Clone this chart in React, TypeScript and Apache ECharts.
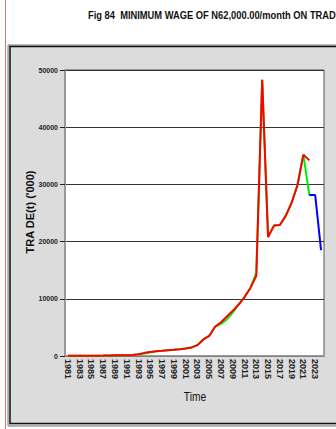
import React, { useEffect, useRef } from "react";
import * as echarts from "echarts";

const years = [
  "1981", "1982", "1983", "1984", "1985", "1986", "1987", "1988", "1989", "1990",
  "1991", "1992", "1993", "1994", "1995", "1996", "1997", "1998", "1999", "2000",
  "2001", "2002", "2003", "2004", "2005", "2006", "2007", "2008", "2009", "2010",
  "2011", "2012", "2013", "2014", "2015", "2016", "2017", "2018", "2019", "2020",
  "2021", "2022", "2023", "2024",
];

const actualTrade = [
  40, 45, 50, 55, 60, 65, 75, 90, 110, 130,
  150, 170, 300, 550, 700, 820, 900, 1000, 1080, 1180,
  1300, 1500, 1900, 2900, 3500, 5100, 5900, 6900, 7900, 9000,
  10300, 11900, 14000, 48300, 20800, 22800, 22900, 24500, 26800, 29900,
  35200, 34200, null, null,
];

const fittedTrade = [
  40, 45, 50, 55, 60, 65, 75, 90, 110, 130,
  150, 170, 300, 450, 650, 820, 900, 1000, 1080, 1180,
  1300, 1500, 1900, 2900, 3500, 5100, 5600, 6400, 7600, 9000,
  10300, 11900, 14600, 48300, 20800, 22800, 22900, 24500, 26800, 29900,
  35200, 28150, null, null,
];

const forecastTrade = [
  null, null, null, null, null, null, null, null, null, null,
  null, null, null, null, null, null, null, null, null, null,
  null, null, null, null, null, null, null, null, null, null,
  null, null, null, null, null, null, null, null, null, null,
  null, 28150, 28150, 18500,
];

const titleText = "Fig 84  MINIMUM WAGE OF N62,000.00/month ON TRADE";
const yName = "TRA DE(t) ('000)";
const xName = "Time";

const sans = "'Liberation Sans', Arial, sans-serif";

export default function App() {
  const ref = useRef<HTMLDivElement>(null);
  useEffect(() => {
    if (!ref.current) return;
    const chart = echarts.init(ref.current, null, { renderer: "svg" });
    chart.setOption({
      animation: false,
      backgroundColor: "#ffffff",
      graphic: [
        { type: "line", shape: { x1: 5.5, y1: 0, x2: 5.5, y2: 429 }, style: { stroke: "#e87070", lineWidth: 1 }, z: -5 },
        { type: "rect", shape: { x: 8, y: 45, width: 340, height: 381 }, style: { fill: "#dcdcdc", stroke: "#7a7a7a", lineWidth: 1 }, z: -10 },
        { type: "rect", shape: { x: 10, y: 46.5, width: 340, height: 377 }, style: { fill: "none", stroke: "#111", lineWidth: 1.5 }, z: -9 },
        {
          type: "text", x: 88, y: 15, scaleX: 0.85,
          style: { text: titleText, font: `bold 11px ${sans}`, fill: "#111", textVerticalAlign: "middle", textAlign: "left" },
        },
        {
          type: "text", x: 30, y: 212, rotation: Math.PI / 2,
          style: { text: yName, font: `bold 11px ${sans}`, fill: "#111", textAlign: "center", textVerticalAlign: "middle" },
        },
        {
          type: "text", x: 195, y: 397, scaleX: 0.85,
          style: { text: xName, font: `12px ${sans}`, fill: "#111", textAlign: "center", textVerticalAlign: "middle" },
        },
      ],
      grid: {
        left: 65, top: 70, right: 12, bottom: 73,
        show: true, backgroundColor: "#ffffff", borderColor: "#555", borderWidth: 1,
      },
      xAxis: {
        type: "category",
        data: years,
        boundaryGap: true,
        axisLine: { lineStyle: { color: "#999", width: 1.5 } },
        axisTick: { interval: 0, length: 16, lineStyle: { color: "#aaa", width: 1 } },
        axisLabel: {
          interval: 1, rotate: -90, margin: 3,
          fontFamily: sans, fontWeight: "bold", fontSize: 9, color: "#222",
        },
        splitLine: { show: false },
      },
      yAxis: {
        type: "value",
        min: 0, max: 50000, interval: 10000,
        axisLine: { show: true, lineStyle: { color: "#999", width: 2 } },
        axisTick: { show: true, length: 5, lineStyle: { color: "#222" } },
        axisLabel: {
          margin: 7, fontFamily: sans, fontWeight: "bold", fontSize: 7, color: "#222",
          formatter: (v: number) => String(v),
        },
        splitLine: { show: true, lineStyle: { color: "#333", width: 1 } },
      },
      series: [
        {
          type: "line", data: fittedTrade, symbol: "none", z: 2,
          lineStyle: { color: "#00ee00", width: 2 },
        },
        {
          type: "line", data: actualTrade, symbol: "none", z: 3,
          lineStyle: { color: "#ff0000", width: 2 },
        },
        {
          type: "line", data: forecastTrade, symbol: "none", z: 4,
          lineStyle: { color: "#0000ff", width: 2 },
        },
      ],
    });
    return () => chart.dispose();
  }, []);
  return (
    <div
      ref={ref}
      style={{ position: "fixed", left: 0, top: 0, width: 336, height: 429 }}
    />
  );
}
